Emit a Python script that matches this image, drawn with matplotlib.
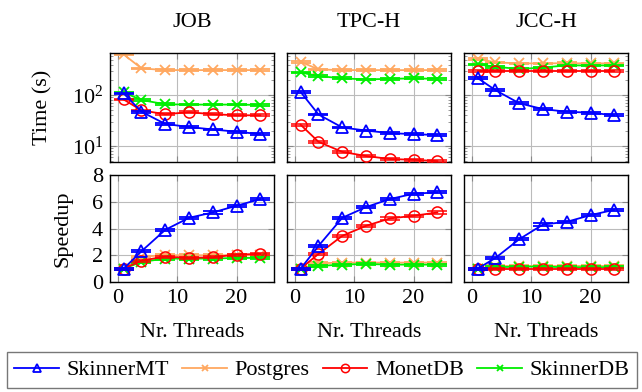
import matplotlib
matplotlib.use("Agg")
import matplotlib.pyplot as plt
from matplotlib.ticker import LogLocator, NullFormatter, LogFormatterMathtext
import numpy as np

plt.rcParams["font.family"] = ["Liberation Serif", "DejaVu Serif"]
plt.rcParams["mathtext.fontset"] = "stix"

THREADS = [1, 4, 8, 12, 16, 20, 24]
BENCHMARKS = ["JOB", "TPC-H", "JCC-H"]
SYSTEMS = ["SkinnerMT", "Postgres", "MonetDB", "SkinnerDB"]

# execution time (s), one list per benchmark
TIME_SKINNERMT = {
    "JOB":   [108, 47, 27, 23.5, 21, 19, 17],
    "TPC-H": [115, 41.5, 23, 20, 17.8, 17, 16.3],
    "JCC-H": [217, 125, 69, 53, 47, 45, 40],
}
TIME_POSTGRES = {
    "JOB":   [634, 336, 311, 311, 311, 311, 311],
    "TPC-H": [454, 321, 311, 311, 311, 311, 311],
    "JCC-H": [520, 441, 422, 422, 425, 422, 422],
}
TIME_MONETDB = {
    "JOB":   [82, 50, 42, 46, 42, 40, 40],
    "TPC-H": [26, 12, 7.6, 6.3, 5.5, 5.3, 5.0],
    "JCC-H": [297, 297, 297, 297, 297, 297, 297],
}
TIME_SKINNERDB = {
    "JOB":   [113, 80, 66, 65, 65, 65, 64],
    "TPC-H": [280, 237, 214, 204, 209, 214, 209],
    "JCC-H": [403, 363, 326, 350, 385, 385, 385],
}

# speedup relative to one thread
SPEEDUP_SKINNERMT = {
    "JOB":   [1.0, 2.3, 3.9, 4.8, 5.2, 5.7, 6.2],
    "TPC-H": [1.0, 2.7, 4.8, 5.6, 6.2, 6.6, 6.7],
    "JCC-H": [1.0, 1.8, 3.2, 4.3, 4.5, 5.0, 5.4],
}
SPEEDUP_POSTGRES = {
    "JOB":   [1.0, 1.9, 2.0, 2.0, 2.0, 2.0, 2.0],
    "TPC-H": [1.0, 1.4, 1.45, 1.45, 1.45, 1.45, 1.45],
    "JCC-H": [1.0, 1.2, 1.2, 1.2, 1.2, 1.2, 1.2],
}
SPEEDUP_MONETDB = {
    "JOB":   [1.0, 1.6, 1.9, 1.8, 1.85, 2.05, 2.1],
    "TPC-H": [1.0, 2.1, 3.45, 4.2, 4.75, 4.95, 5.2],
    "JCC-H": [1.0, 1.0, 1.0, 1.0, 1.0, 1.0, 1.0],
}
SPEEDUP_SKINNERDB = {
    "JOB":   [1.0, 1.5, 1.75, 1.75, 1.75, 1.8, 1.8],
    "TPC-H": [1.0, 1.2, 1.3, 1.35, 1.3, 1.3, 1.3],
    "JCC-H": [1.0, 1.1, 1.15, 1.15, 1.1, 1.1, 1.1],
}

TIMES = [TIME_SKINNERMT, TIME_POSTGRES, TIME_MONETDB, TIME_SKINNERDB]
SPEEDUPS = [SPEEDUP_SKINNERMT, SPEEDUP_POSTGRES, SPEEDUP_MONETDB, SPEEDUP_SKINNERDB]

STYLES = {
    "SkinnerMT": dict(color="#0000ff", marker="^", mfc="none", ms=8, mew=1.3),
    "Postgres":  dict(color="#ffa860", marker="x", ms=7, mew=1.3),
    "MonetDB":   dict(color="#ff0000", marker="o", mfc="none", ms=8, mew=1.1),
    "SkinnerDB": dict(color="#00ee00", marker="x", ms=7, mew=1.3),
}
ZORDER = {"Postgres": 2, "SkinnerDB": 3, "MonetDB": 4, "SkinnerMT": 5}

fig = plt.figure(figsize=(6.42, 3.92), dpi=100)
W, H = 642.0, 392.0
lefts = [110, 287, 464]
aw = 164


def frac_axes(x0, y0, x1, y1):
    return fig.add_axes([x0 / W, 1 - y1 / H, (x1 - x0) / W, (y1 - y0) / H])


def style_axes(ax):
    ax.set_xlim(-1.3, 26.3)
    ax.set_xticks([0, 10, 20])
    ax.tick_params(direction="in", top=True, right=True, length=4, width=0.8,
                   color="#888888", labelsize=16, pad=5)
    ax.tick_params(which="minor", direction="in", left=True, right=True,
                   length=2.5, color="#888888")
    ax.grid(True, which="major", color="#bbbbbb", lw=0.8)
    for s in ax.spines.values():
        s.set_linewidth(1.0)
    ax.set_axisbelow(True)


handles = []
for j, bench in enumerate(BENCHMARKS):
    x0 = lefts[j]
    ax_t = frac_axes(x0, 53, x0 + aw, 162)
    ax_b = frac_axes(x0, 175, x0 + aw, 282)

    for k, name in enumerate(SYSTEMS):
        st = STYLES[name]
        t = np.array(TIMES[k][bench])
        sp = np.array(SPEEDUPS[k][bench])
        ax_t.errorbar(THREADS, t, yerr=[t * 0.04, t * 0.04], color=st["color"],
                      ecolor=st["color"], elinewidth=0, capsize=7.5, capthick=2.2,
                      marker=st["marker"], ms=st["ms"], mew=st["mew"],
                      mfc=st.get("mfc", st["color"]), lw=1.3, zorder=ZORDER[name])
        ax_b.errorbar(THREADS, sp, yerr=0.08, color=st["color"],
                      ecolor=st["color"], elinewidth=0, capsize=7.5, capthick=2.2,
                      marker=st["marker"], ms=st["ms"], mew=st["mew"],
                      mfc=st.get("mfc", st["color"]), lw=1.3, zorder=ZORDER[name])
        if j == 0:
            h, = ax_t.plot([], [], color=st["color"], marker=st["marker"],
                           ms=st["ms"] - 2, mew=st["mew"],
                           mfc=st.get("mfc", st["color"]), lw=1.3)
            handles.append(h)

    ax_t.set_yscale("log")
    ax_t.set_ylim(4.8, 676)
    ax_t.yaxis.set_major_locator(LogLocator(base=10, numticks=10))
    ax_t.yaxis.set_minor_locator(LogLocator(base=10, subs=np.arange(2, 10), numticks=10))
    ax_t.yaxis.set_minor_formatter(NullFormatter())
    ax_t.yaxis.set_major_formatter(LogFormatterMathtext())
    style_axes(ax_t)
    ax_t.set_xticklabels([])
    ax_t.set_title(bench, fontsize=16, pad=19)

    ax_b.set_ylim(0, 8)
    ax_b.set_yticks([0, 2, 4, 6, 8])
    style_axes(ax_b)
    ax_b.set_xlabel("Nr. Threads", fontsize=16, labelpad=11)

    if j == 0:
        ax_t.set_ylabel("Time (s)", fontsize=16, labelpad=14)
        ax_b.set_ylabel("Speedup", fontsize=16, labelpad=14)
    else:
        ax_t.set_yticklabels([])
        ax_b.set_yticklabels([])

leg = fig.legend(handles, SYSTEMS, loc="center", ncol=4, fontsize=16,
                 bbox_to_anchor=(322 / W, 1 - 370 / H), frameon=True,
                 fancybox=False, edgecolor="#555555", handlelength=2.0,
                 columnspacing=0.6, handletextpad=0.35, borderpad=0.35,
                 borderaxespad=0.2)
leg.get_frame().set_linewidth(1.0)

fig.savefig("out.png", dpi=100)
